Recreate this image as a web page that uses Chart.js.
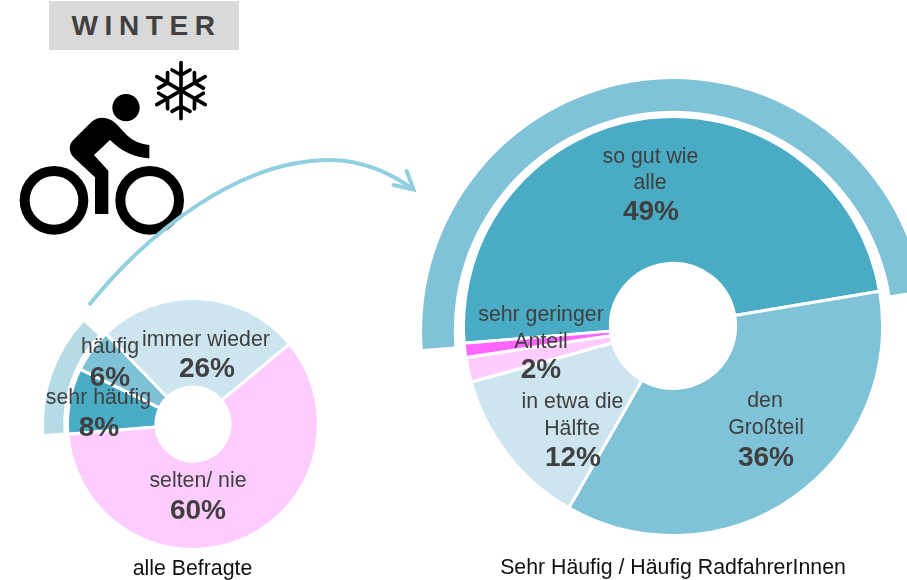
<!DOCTYPE html>
<html lang="de"><head><meta charset="utf-8">
<script src="https://cdn.jsdelivr.net/npm/chart.js@4"></script>
<style>
html,body{margin:0;padding:0;background:#fff;overflow:hidden}
#stage{position:relative;width:907px;height:580px;overflow:hidden;font-family:"Liberation Sans",Arial,sans-serif}
canvas{position:absolute}
svg{position:absolute;left:0;top:0}
.t{position:absolute;white-space:nowrap;transform:translate(-50%,-50%);line-height:1;color:#404040;font-size:21.3px}
.b{font-weight:bold;font-size:28px}
.k{color:#111}
#title{position:absolute;left:49px;top:1px;width:190px;height:49px;background:#d9d9d9;color:#404040;font-weight:bold;font-size:28px;letter-spacing:6.6px;text-align:center;line-height:49px;text-indent:5px}
</style></head><body>
<div id="stage">
<div id="title">WINTER</div>
<canvas id="cLeftArc"></canvas><canvas id="cLeft"></canvas>
<canvas id="cRightArc"></canvas><canvas id="cRight"></canvas>
<svg width="907" height="580" viewBox="0 0 907 580">
  <g transform="scale(0.33333)" fill="#000">
    <circle cx="378" cy="323" r="41"/>
    <path d="M305 353C325 353 340 362 352 375L375 400C395 422 420 433 448 435L448 475C405 473 365 455 330 420L282 465L325 512L325 642L285 642L285 532L222 473C205 458 205 432 222 418L275 365C285 357 295 353 305 353Z"/>
    <circle cx="162" cy="601" r="88" fill="none" stroke="#000" stroke-width="30"/>
    <circle cx="449" cy="601" r="88" fill="none" stroke="#000" stroke-width="30"/>
    <g transform="translate(543 272)" fill="none" stroke="#000" stroke-width="11" stroke-linecap="round">
      <g id="flakeArm"><path d="M0 -84L0 84M-27 -62L0 -47L27 -62M-27 62L0 47L27 62"/></g>
      <use href="#flakeArm" transform="rotate(60)"/>
      <use href="#flakeArm" transform="rotate(120)"/>
    </g>
  </g>
  <g fill="none" stroke="#92cfe0" stroke-width="4">
    <path d="M89 305C150 230 240 160 330 160C360 160 390 172 413 189.5"/>
    <path d="M406.7 171L413.5 189.5L393.5 185" stroke-linecap="round"/>
  </g>
</svg>
<div id="labels"></div>
</div>
<script>
const leftCategories = ['sehr häufig','häufig','immer wieder','selten/ nie'];
const leftValues = [8.5, 5.6, 26.2, 59.7];
const leftColors = ['#4aabc5','#7fc2d7','#cce5ef','#ffccff'];
const leftPercents = ['8%','6%','26%','60%'];
const leftArcValues = [13, 87];
const rightCategories = ['so gut wie alle','den Großteil','in etwa die Hälfte','','sehr geringer Anteil'];
const rightValues = [48.6, 35.9, 12.4, 1.9, 1.1];
const rightColors = ['#4aabc5','#80c3d8','#cce5ef','#ffccff','#ff66ff'];
const rightPercents = ['49%','36%','12%','2%'];
const rightArcValues = [48.6, 51.4];

function ring(id, cx, cy, R, r, rotation, data, colors, border){
  const pad = 6, size = Math.ceil(2*(R+pad));
  const cv = document.getElementById(id);
  cv.width = size; cv.height = size;
  cv.style.cssText = `left:${cx-size/2}px;top:${cy-size/2}px;width:${size}px;height:${size}px`;
  new Chart(cv, {
    type:'doughnut',
    data:{datasets:[{data, backgroundColor:colors, borderColor:'#fff', borderWidth:border}]},
    options:{responsive:false, animation:false, devicePixelRatio:1, rotation,
      radius:R+border/2, cutout:Math.max(r-border/2,0),
      layout:{padding:0},
      plugins:{legend:{display:false}, tooltip:{enabled:false}}}
  });
}
ring('cLeftArc',193.3,423.3,149.5,135.5,266,leftArcValues,['#b5dbe7','rgba(0,0,0,0)'],0);
ring('cLeft',193.3,423.5,124,39.5,265.3,leftValues,leftColors,3);
ring('cRightArc',673,330.7,251.4,225,265.8,rightArcValues,['#80c3d8','rgba(0,0,0,0)'],0);
ring('cRight',672.5,326,208,65,265.3,rightValues,rightColors,3);

const textItems = [
 ['häufig',110,347,''],[leftPercents[1],110,377,'b'],
 ['sehr häufig',98.5,398,''],[leftPercents[0],99,427,'b'],
 ['immer wieder',206,340,''],[leftPercents[2],207,368,'b'],
 ['selten/ nie',198,481,''],[leftPercents[3],198,510,'b'],
 ['so gut wie',650.5,157,''],['alle',650,183,''],[rightPercents[0],651,211,'b'],
 ['den',765,401,''],['Großteil',766,428,''],[rightPercents[1],766,457,'b'],
 ['in etwa die',572.5,402,''],['Hälfte',572,429,''],[rightPercents[2],573,457,'b'],
 ['sehr geringer',541,315,''],['Anteil',541,342,''],[rightPercents[3],541,369,'b'],
 ['alle Befragte',192.5,569,'k'],['Sehr Häufig / Häufig RadfahrerInnen',673,568,'k']
];
const host = document.getElementById('labels');
textItems.forEach(([s,x,y,c])=>{
  const d = document.createElement('div');
  d.className = 't '+c; d.textContent = s;
  d.style.left = x+'px'; d.style.top = y+'px';
  host.appendChild(d);
});
</script>
</body></html>
